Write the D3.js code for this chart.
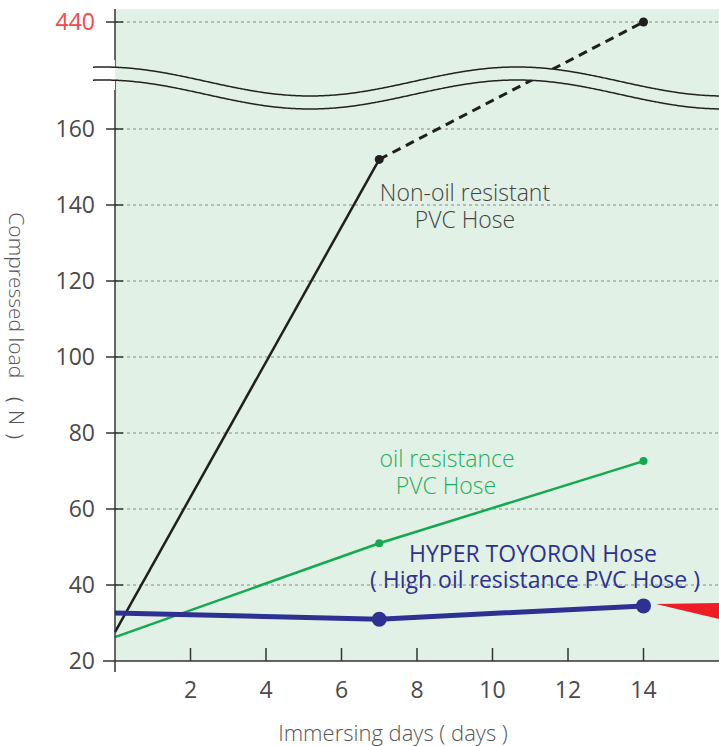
<!DOCTYPE html>
<html>
<head>
<meta charset="utf-8">
<title>Compressed load</title>
<script src="https://d3js.org/d3.v7.min.js"></script>
<style>
  body { margin: 0; background: #fff; }
  text { font-family: "Open Sans", "Noto Sans", sans-serif; }
</style>
</head>
<body>
<div id="chart"></div>
<script>
// data
const days = [0, 7, 14];
const nonOil = [27.6, 152, 440];
const oilRes = [26.3, 51, 72.6];
const hyper = [32.6, 31, 34.5];
const xTicks = [2, 4, 6, 8, 10, 12, 14];
const yTicks = [20, 40, 60, 80, 100, 120, 140, 160];
const yTop = 440;

const W = 719, H = 746;
const svg = d3.select("#chart").append("svg")
    .attr("width", W).attr("height", H);

const x = d3.scaleLinear().domain([0, 16]).range([115, 719]);
// broken axis: 20..160 linear, then jump to 440
const y = d3.scaleLinear().domain([20, 160, 440]).range([661, 129, 22]);

const plotTop = 9;

// background
svg.append("rect")
    .attr("x", x(0)).attr("y", plotTop)
    .attr("width", W - x(0)).attr("height", y(20) - plotTop)
    .attr("fill", "#e1f1e6");

// gridlines
svg.append("g").selectAll("line")
    .data(yTicks.slice(1).concat([yTop]))
    .join("line")
    .attr("x1", x(0)).attr("x2", W)
    .attr("y1", d => y(d)).attr("y2", d => y(d))
    .attr("stroke", "#888").attr("stroke-width", 1)
    .attr("stroke-dasharray", "3,3");

// series
function series(vals) {
  return days.map((d, i) => [x(d), y(vals[i])]);
}
const line = d3.line();

// non-oil: solid to day 7, dashed after
const pNon = series(nonOil);
svg.append("path").attr("d", line(pNon.slice(0, 2)))
    .attr("fill", "none").attr("stroke", "#1f1f1f").attr("stroke-width", 2.5);
svg.append("path").attr("d", line(pNon.slice(1)))
    .attr("fill", "none").attr("stroke", "#1f1f1f").attr("stroke-width", 3)
    .attr("stroke-dasharray", "9,6");
svg.append("g").selectAll("circle").data(pNon.slice(1)).join("circle")
    .attr("cx", d => d[0]).attr("cy", d => d[1]).attr("r", 4.5).attr("fill", "#1f1f1f");

const pOil = series(oilRes);
svg.append("path").attr("d", line(pOil))
    .attr("fill", "none").attr("stroke", "#14a850").attr("stroke-width", 2.5);
svg.append("g").selectAll("circle").data(pOil.slice(1)).join("circle")
    .attr("cx", d => d[0]).attr("cy", d => d[1]).attr("r", 4).attr("fill", "#14a850");

const pHyp = series(hyper);
svg.append("path").attr("d", line(pHyp))
    .attr("fill", "none").attr("stroke", "#2e3192").attr("stroke-width", 5);
svg.append("g").selectAll("circle").data(pHyp.slice(1)).join("circle")
    .attr("cx", d => d[0]).attr("cy", d => d[1]).attr("r", 7.5).attr("fill", "#2e3192");

// red arrow pointing at the 14-day point
svg.append("polygon")
    .attr("points", [[656, 604], [W, 603], [W, 619]].map(p => p.join(",")).join(" "))
    .attr("fill", "#ee1c25");

// axes
svg.append("line").attr("x1", x(0)).attr("x2", x(0))
    .attr("y1", plotTop).attr("y2", 672).attr("stroke", "#333").attr("stroke-width", 1.5);
svg.append("line").attr("x1", 103).attr("x2", W)
    .attr("y1", y(20)).attr("y2", y(20)).attr("stroke", "#333").attr("stroke-width", 1.5);

svg.append("g").selectAll("line").data(yTicks.slice(1).concat([yTop])).join("line")
    .attr("x1", 106).attr("x2", 123)
    .attr("y1", d => y(d)).attr("y2", d => y(d))
    .attr("stroke", "#333").attr("stroke-width", 1.5);
svg.append("g").selectAll("line").data(xTicks).join("line")
    .attr("x1", d => x(d)).attr("x2", d => x(d))
    .attr("y1", 648).attr("y2", y(20))
    .attr("stroke", "#333").attr("stroke-width", 1.5);

// axis break: two wavy lines with the band between them blanked
const wave = xx => 81.5 - 14.5 * Math.cos(2 * Math.PI * (xx - 517) / 414);
const xs = d3.range(93, W + 1, 2);
const upper = xs.map(v => [v, wave(v)]);
const lower = xs.map(v => [v, wave(v) + 13]);
const band = upper.concat(lower.slice().reverse());
svg.append("path").attr("d", d3.line()(band) + "Z").attr("fill", "#e1f1e6");
svg.append("rect").attr("x", 93).attr("y", 60).attr("width", x(0) - 93).attr("height", 30)
    .attr("fill", "#fff");
[upper, lower].forEach(pts => {
  svg.append("path").attr("d", d3.line().curve(d3.curveBasis)(pts))
      .attr("fill", "none").attr("stroke", "#222").attr("stroke-width", 1.5);
});

// tick labels
svg.append("g").selectAll("text").data(yTicks.concat([yTop])).join("text")
    .attr("x", 95).attr("y", d => y(d)).attr("dy", "0.36em")
    .attr("text-anchor", "end").attr("font-size", 23)
    .attr("fill", d => d === yTop ? "#f04a4a" : "#4a4a4a")
    .text(d => d);
svg.append("g").selectAll("text").data(xTicks).join("text")
    .attr("x", d => x(d)).attr("y", 698)
    .attr("text-anchor", "middle").attr("font-size", 23)
    .attr("fill", "#4a4a4a")
    .text(d => d);

// axis titles
svg.append("text").attr("x", 393).attr("y", 741)
    .attr("text-anchor", "middle").attr("font-size", 22).attr("font-weight", 300)
    .attr("fill", "#555")
    .text("Immersing days ( days )");
svg.append("text")
    .attr("transform", "translate(9,332) rotate(90)")
    .attr("text-anchor", "middle").attr("font-size", 21).attr("font-weight", 300)
    .attr("fill", "#555")
    .text("Compressed load （ N ）");

// series labels
function label(lines, cx, y0, gap, color, weight) {
  const t = svg.append("text").attr("text-anchor", "middle")
      .attr("font-size", 23).attr("fill", color).attr("font-weight", weight);
  lines.forEach((s, i) => {
    t.append("tspan").attr("x", cx[i]).attr("y", y0 + i * gap).text(s);
  });
}
label(["Non-oil resistant", "PVC Hose"], [465, 465], 201, 27, "#444", 300);
label(["oil resistance", "PVC Hose"], [447, 446], 467, 27, "#1fae5c", 300);
label(["HYPER TOYORON Hose", "( High oil resistance PVC Hose )"], [533, 535], 562, 26, "#2e3192", 500);
</script>
</body>
</html>
